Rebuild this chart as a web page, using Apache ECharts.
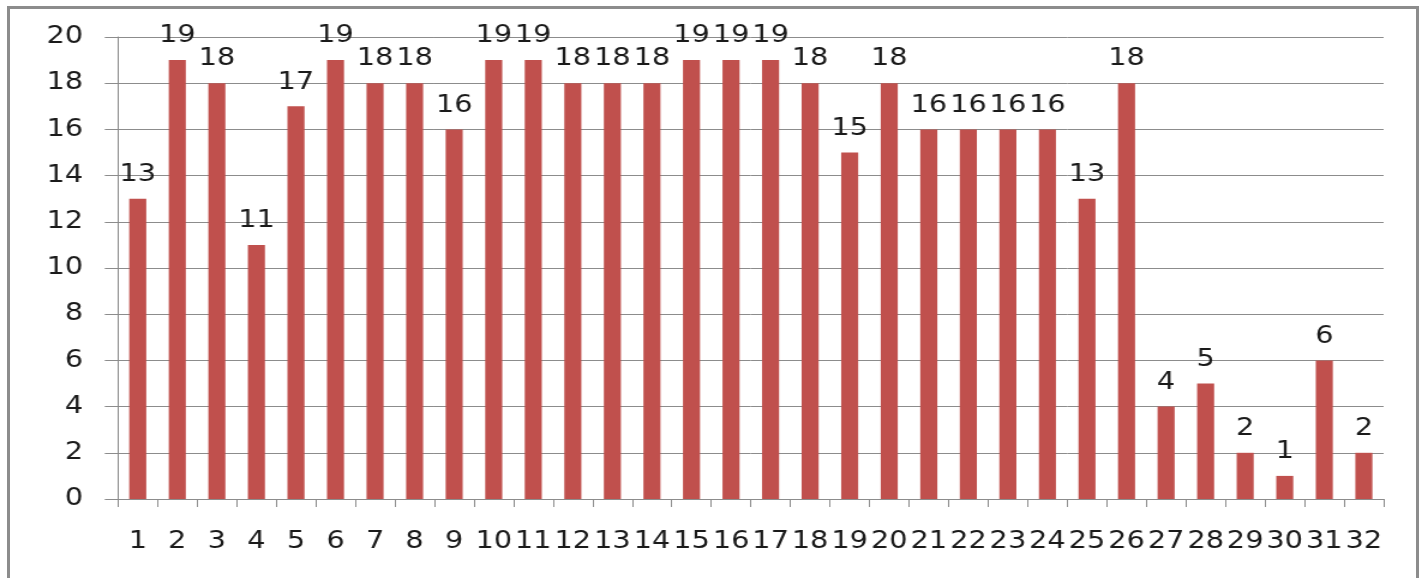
<!DOCTYPE html>
<html>
<head>
<meta charset="utf-8">
<script src="https://cdn.jsdelivr.net/npm/echarts@6/dist/echarts.min.js"></script>
<style>
html,body{margin:0;padding:0;background:#fff;overflow:hidden;}
#wrap{position:absolute;left:0;top:0;width:1425px;height:578px;}
#chart{position:absolute;left:0;top:0;width:1187.5px;height:578px;transform:scaleX(1.2);transform-origin:0 0;}
#frame{position:absolute;left:7px;top:6px;width:1412px;height:600px;border:3px solid #8c8c8c;box-sizing:border-box;pointer-events:none;}
</style>
</head>
<body>
<div id="wrap">
<div id="chart"></div>
<div id="frame"></div>
</div>
<script>
const categories = ['1','2','3','4','5','6','7','8','9','10','11','12','13','14','15','16','17','18','19','20','21','22','23','24','25','26','27','28','29','30','31','32'];
const values = [13,19,18,11,17,19,18,18,16,19,19,18,18,18,19,19,19,18,15,18,16,16,16,16,13,18,4,5,2,1,6,2];
const yMin = 0, yMax = 20, yStep = 2;

const chart = echarts.init(document.getElementById('chart'), null, {renderer:'canvas'});
const font = 'DejaVu Sans';
chart.setOption({
  animation: false,
  grid: {left: 98.3, right: 35, top: 37, bottom: 79, containLabel: false},
  xAxis: {
    type: 'category',
    data: categories,
    boundaryGap: true,
    axisLine: {show: true, lineStyle: {color: '#8c8c8c', width: 1}},
    axisTick: {show: true, alignWithLabel: false, length: 8, lineStyle: {color: '#8c8c8c'}},
    axisLabel: {interval: 0, margin: 31, color: '#1a1a1a', fontFamily: font, fontSize: 24}
  },
  yAxis: {
    type: 'value',
    min: yMin, max: yMax, interval: yStep,
    axisLine: {show: true, lineStyle: {color: '#8c8c8c', width: 1}},
    axisTick: {show: true, inside: false, length: 11, lineStyle: {color: '#8c8c8c'}},
    splitLine: {show: true, lineStyle: {color: '#8c8c8c', width: 1}},
    axisLabel: {margin: 29, color: '#1a1a1a', fontFamily: font, fontSize: 24}
  },
  series: [{
    type: 'bar',
    data: values,
    barWidth: 14.2,
    itemStyle: {color: '#C0504D'},
    label: {show: true, position: 'top', distance: 12, color: '#1a1a1a', fontFamily: font, fontSize: 24}
  }]
});
</script>
</body>
</html>
